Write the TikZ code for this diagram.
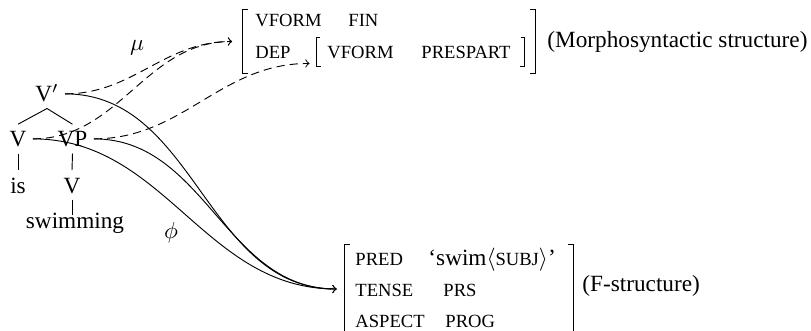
\documentclass[tikz,border=0pt]{standalone}
\usepackage{fontspec}
\setmainfont{Liberation Serif}
\usetikzlibrary{fit}
% feature names set in small capitals (faked with a smaller upright size)
\newcommand\attr[1]{{\fontsize{8}{9.6}\selectfont #1}}

\begin{document}
\begin{tikzpicture}[x=0.4304pt,y=-0.4304pt,
  cat/.style={inner sep=2.6pt, text height=7pt, text depth=0pt, anchor=base},
  lbl/.style={inner sep=0pt, anchor=base west},
  avm/.style={inner sep=0pt},
  mapdash/.style={->, dash pattern=on 3.5pt off 2.2pt},
  mapsolid/.style={->},
]
\clip (0,0) rectangle (811,331);

% ---------- constituent tree ----------
\node[cat] (Vbar) at (47,102) {V$'$};
\node[cat] (V)    at (18,147) {V};
\node[cat] (VP)   at (72.5,147) {VP};
\node[cat] (is)   at (18,193) {is};
\node[cat] (V2)   at (72,193) {V};
\node[cat, text height=2.6pt] (swim) at (75,228) {swimming};

\draw (Vbar.south) -- (V.north);
\draw (Vbar.south) -- (VP.north);
\draw (V.south) -- (is.north);
\draw (VP.south) -- (V2.north);
\draw (V2.south) -- (V2.south |- swim.north);

% ---------- morphosyntactic structure ----------
\coordinate (m1) at (243,10);
\coordinate (m2) at (535,73);
\node[avm, fit=(m1)(m2)] (morph) {};
\draw ([xshift=2.2pt]morph.north west) -| (morph.south west) -- ++(5,0);
\draw ([xshift=-2.2pt]morph.north east) -| (morph.south east) -- ++(-5,0);

\node[lbl] (vf1) at (255,27) {\attr{VFORM}};
\node[lbl] (fin) at (348,27) {\attr{FIN}};
\node[lbl] (dep) at (255,59) {\attr{DEP}};

\coordinate (i1) at (317,38);
\coordinate (i2) at (524,66);
\node[avm, fit=(i1)(i2)] (inner) {};
\draw ([xshift=1.7pt]inner.north west) -| (inner.south west) -- ++(4,0);
\draw ([xshift=-1.7pt]inner.north east) -| (inner.south east) -- ++(-4,0);
\node[lbl] (vf2) at (327,59) {\attr{VFORM}};
\node[lbl] (psp) at (421,59) {\attr{PRESPART}};

\node[anchor=west, inner sep=0pt] (mcap) at (547,41.5) {(Morphosyntactic structure)};

% ---------- f-structure ----------
\coordinate (f1) at (345,245);
\coordinate (f2) at (573,333);
\node[avm, fit=(f1)(f2)] (fstr) {};
\draw ([xshift=2.2pt]fstr.north west) -| (fstr.south west) -- ++(5,0);
\draw ([xshift=-2.2pt]fstr.north east) -| (fstr.south east) -- ++(-5,0);

\node[lbl] (pred)  at (355,265) {\attr{PRED}};
\node[lbl] (swimv) at (428,265) {`swim$\langle$\attr{SUBJ}$\rangle$'};
\node[lbl] (tense) at (355,296) {\attr{TENSE}};
\node[lbl] (prs)   at (443,296) {\attr{PRS}};
\node[lbl] (asp)   at (355,327) {\attr{ASPECT}};
\node[lbl] (prog)  at (445,327) {\attr{PROG}};

\node[anchor=west, inner sep=0pt] (fcap) at (582,286) {(F-structure)};

% ---------- projection labels ----------
\node (mu)  at (137,48)  {$\mu$};
\node (phi) at (171,233) {$\phi$};

% ---------- correspondence mappings ----------
\draw[mapdash] (Vbar.east) to[out=0,in=180] ([xshift=-4.5pt]morph.west);
\draw[mapdash] (V.east) to[out=0,in=180] ([xshift=-4.5pt]morph.west);
\draw[mapdash] (VP.east) to[out=0,in=180] ([xshift=-3pt,yshift=1.3pt]inner.south west);

\draw[mapsolid] (Vbar.east) to[out=0,in=180] ([xshift=-3.4pt]fstr.west);
\draw[mapsolid] (V.east) to[out=0,in=180] ([xshift=-3.4pt]fstr.west);
\draw[mapsolid] (VP.east) to[out=0,in=180] ([xshift=-3.4pt]fstr.west);
\end{tikzpicture}
\end{document}
